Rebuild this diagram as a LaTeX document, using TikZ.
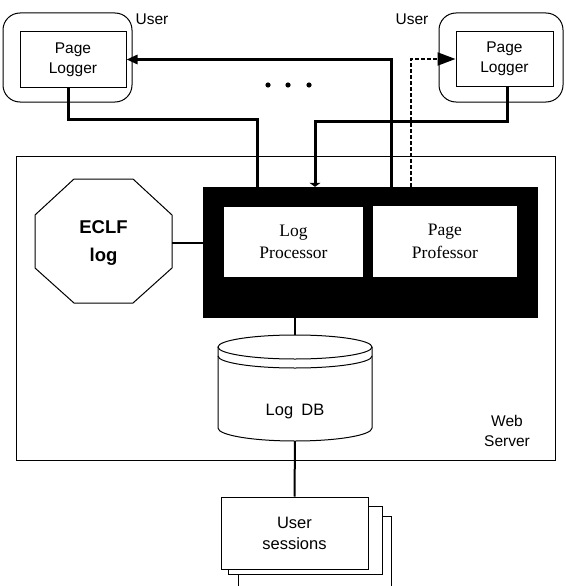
\documentclass[tikz,border=0pt]{standalone}
\usepackage{fontspec}
\setmainfont{Liberation Serif}
\setsansfont{Liberation Sans}
\usetikzlibrary{arrows.meta,calc}
\begin{document}
\begin{tikzpicture}[x=1pt,y=1pt,
  every node/.style={inner sep=0pt, align=center},
  sanslbl/.style={font=\sffamily\fontsize{15.5}{20}\selectfont},
  serlbl/.style={font=\rmfamily\fontsize{17.5}{22.5}\selectfont},
  box/.style={draw, line width=1pt},
  userbox/.style={box, rounded corners=17pt},
  whitebox/.style={box, fill=white},
  conn/.style={line width=3pt},
  midconn/.style={line width=2pt},
  dashconn/.style={line width=2pt, dash pattern=on 4pt off 2pt}
]
\useasboundingbox (0,0) rectangle (565,-586);

% users
\node[userbox, minimum width=129pt, minimum height=89pt] (userL) at (67.5,-57.5) {};
\node[userbox, minimum width=124pt, minimum height=89pt] (userR) at (501,-57.5) {};
\node[box, sanslbl, minimum width=106pt, minimum height=55pt] (loggerL) at (73,-59.5) {Page\\Logger};
\node[box, sanslbl, minimum width=97pt, minimum height=54pt] (loggerR) at (504.5,-59) {Page\\Logger};
\node[sanslbl] (ulblL) at (152,-19) {User};
\node[sanslbl] (ulblR) at (412,-19) {User};

% dots
\fill (268,-85) circle (2.6pt);
\fill (288,-85) circle (2.6pt);
\fill (309,-85) circle (2.6pt);

% web server
\draw[box] (16,-156) rectangle (555,-460);
\node[sanslbl] (web) at (507,-431) {Web\\Server};

% ECLF log octagon
\draw[box] (74,-179) -- (133,-179) -- (172,-215) -- (172,-268) -- (133,-303)
  -- (74,-303) -- (35,-268) -- (35,-215) -- cycle;
\node[minimum width=137pt, minimum height=124pt, font=\sffamily\bfseries\fontsize{18.5}{28}\selectfont] (ecl) at (103.5,-243) {ECLF\\log};

% processor block
\node[fill=black, minimum width=335pt, minimum height=131pt] (dark) at (370.5,-252.5) {};
\node[fill=white, serlbl, minimum width=139pt, minimum height=70pt] (logproc) at (293.5,-242) {Log\\Processor};
\node[fill=white, serlbl, minimum width=144pt, minimum height=71pt] (pageprof) at (445,-241.5) {Page\\Professor};

% Log DB cylinder
\coordinate (dbtop) at (295,-335);
\coordinate (dbbot) at (295,-441);
\draw[box] (218,-347) -- (218,-428) arc[start angle=180, end angle=360, x radius=77pt, y radius=13pt] -- (372,-347);
\draw[box] (295,-347) ellipse[x radius=77pt, y radius=12pt];
\draw[box] (218,-356) arc[start angle=180, end angle=360, x radius=77pt, y radius=12pt];
\node[font=\sffamily\fontsize{16.5}{20}\selectfont] (db) at (295,-412) {Log\hspace{0.5em}DB};

% user sessions stack
\path[fill=white] (238,-586) rectangle (391,-516);
\draw[box] (238,-586) |- (391,-516) -- (391,-586);
\draw[whitebox] (228,-506) rectangle (382,-574);
\node[whitebox, font=\sffamily\fontsize{16.5}{21}\selectfont, minimum width=147pt, minimum height=72pt] (sess) at (294.5,-533) {User\\sessions};

% connector coordinates
\coordinate (xA) at (391,0);
\coordinate (xD) at (411,0);
\coordinate (xL) at (68,0);
\coordinate (yL) at (0,-119);
\coordinate (xLd) at (257,0);
\coordinate (xR) at (507,0);
\coordinate (yR) at (0,-121);
\coordinate (xRd) at (315,0);

% connectors
\draw[conn, -{Triangle[length=11pt,width=9pt]}] (dark.north -| xA) |- (loggerL.east);
\draw[dashconn, -{Triangle[length=18pt,width=13pt]}] (dark.north -| xD) |- (loggerR.west);
\draw[conn] (loggerL.south -| xL) -- (xL |- yL) -| (dark.north -| xLd);
\draw[conn, -{Triangle[length=4pt,width=11pt]}] (loggerR.south -| xR) -- (xR |- yR) -| (dark.north -| xRd);
\draw[midconn] (ecl.east) -- (ecl.east -| dark.west);
\draw[midconn] (dark.south -| dbtop) -- (dbtop);
\draw[midconn] (dbbot) -- (sess.north);
\end{tikzpicture}
\end{document}
